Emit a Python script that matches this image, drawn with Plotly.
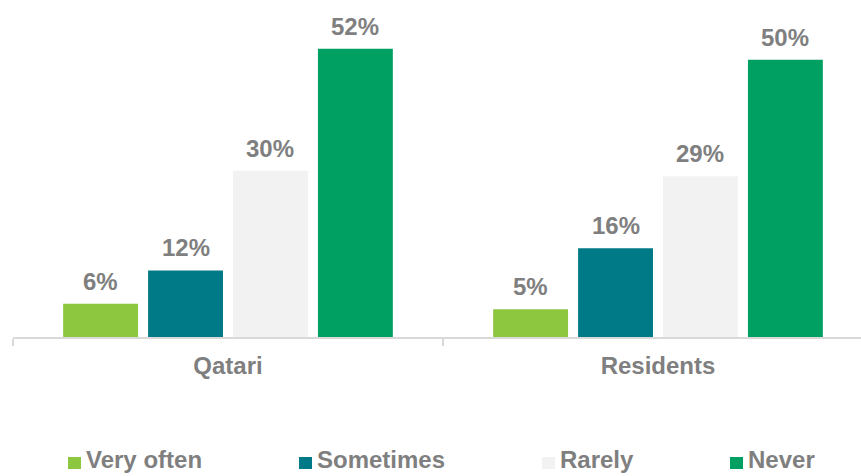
import plotly.graph_objects as go

# Survey answers by group
groups = ["Qatari", "Residents"]
series = ["Very often", "Sometimes", "Rarely", "Never"]
very_often = [6, 5]
sometimes = [12, 16]
rarely = [30, 29]
never = [52, 50]
values = [very_often, sometimes, rarely, never]
colors = ["#8DC63F", "#007A87", "#F2F2F2", "#00A062"]

W, H = 861, 476
ML, MR, MT, MB = 13, 0, 0, 139
plot_w = W - ML - MR
plot_h = H - MT - MB

BARGAP = 0.21
GROUPGAP = 0.118
cat_px = 430.0
x_hi = -0.5 + plot_w / cat_px
y_hi = 60.8

GRAY = "#7F7F7F"
FONT = "Liberation Sans, Arial, sans-serif"
FS = 24

fig = go.Figure()
for name, vals, col in zip(series, values, colors):
    fig.add_trace(go.Bar(
        name=name, x=groups, y=vals, marker=dict(color=col, line=dict(width=0)),
        showlegend=False,
    ))

# value labels above each bar
n = len(series)
group_w = 1 - BARGAP
slot = group_w / n
annotations = []
for i, vals in enumerate(values):
    for g, v in enumerate(vals):
        xc = g - group_w / 2 + slot * (i + 0.5)
        annotations.append(dict(
            x=xc, y=v, xref="x", yref="y", text=f"{v}%", showarrow=False,
            xanchor="center", yanchor="bottom", yshift=7,
            font=dict(family=FONT, size=FS, color=GRAY, weight="bold"),
        ))

# legend row along the bottom edge
legend_px = [68, 299, 542, 730]
sq_w, sq_h = 13, 12
sq_bottom = 469
shapes = []
def px_to_paper(px, py):
    return (px - ML) / plot_w, (H - MB - py) / plot_h

for name, col, lx in zip(series, colors, legend_px):
    x0, y0 = px_to_paper(lx, sq_bottom)
    x1, y1 = px_to_paper(lx + sq_w, sq_bottom - sq_h)
    shapes.append(dict(type="rect", xref="paper", yref="paper",
                       x0=x0, x1=x1, y0=y0, y1=y1,
                       fillcolor=col, line=dict(width=0), layer="above"))
    tx, ty = px_to_paper(lx + sq_w + 3, H - 1)
    annotations.append(dict(
        x=tx, y=ty, xref="paper", yref="paper", text=name, showarrow=False,
        xanchor="left", yanchor="bottom",
        font=dict(family=FONT, size=FS, color=GRAY, weight="bold"),
    ))

fig.update_layout(
    width=W, height=H,
    margin=dict(l=ML, r=MR, t=MT, b=MB, pad=0),
    paper_bgcolor="white", plot_bgcolor="white",
    barmode="group", bargap=BARGAP, bargroupgap=GROUPGAP,
    annotations=annotations, shapes=shapes,
    xaxis=dict(
        type="category", range=[-0.5, x_hi],
        showline=True, linecolor="#D9D9D9", linewidth=2,
        ticks="outside", tickson="boundaries", ticklen=7, tickcolor="#D9D9D9", tickwidth=2,
        showgrid=False, zeroline=False, ticklabelstandoff=6,
        tickfont=dict(family=FONT, size=FS, color=GRAY, weight="bold"),
    ),
    yaxis=dict(range=[0, y_hi], visible=False, showgrid=False, zeroline=False),
    showlegend=False,
)

fig.write_html("out.html")
